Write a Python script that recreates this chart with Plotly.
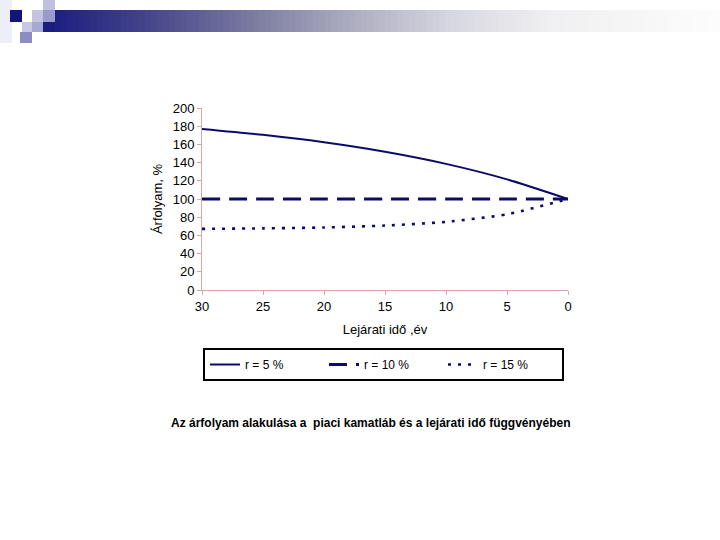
import plotly.graph_objects as go

# maturity (years left) and price (%) for three market rates
YEARS = [30, 25, 20, 15, 10, 5, 0]
R5 = [177, 170.5, 162.3, 151.9, 138.6, 121.6, 100]
R10 = [100, 100, 100, 100, 100, 100, 100]
R15 = [67.2, 67.7, 68.7, 70.8, 74.9, 83.2, 100]
NAMES = ["r = 5 %", "r = 10 %", "r = 15 %"]
Y_TICKS = list(range(0, 201, 20))
X_TICKS = [30, 25, 20, 15, 10, 5, 0]

NAVY = "#0b0b6b"
AXIS = "#dca4a4"
FONT = "Liberation Sans, Arial, sans-serif"

fig = go.Figure()
for ys, name, dash, w in [
    (R5, NAMES[0], "solid", 2),
    (R10, NAMES[1], "18px,9px", 3),
    (R15, NAMES[2], "3px,7px", 2.6),
]:
    fig.add_trace(go.Scatter(
        x=YEARS, y=ys, name=name, mode="lines",
        line=dict(color=NAVY, width=w, dash=dash, shape="spline", smoothing=0.6),
    ))


def px(xp, yp):
    # page pixel -> paper coords (plot area 202..568 x 108..290)
    return (xp - 202) / 366, (290 - yp) / 182


# slide decoration: gradient bar + squares at the top left
stops = [(43, (26, 26, 128)), (150, (70, 70, 140)), (250, (122, 122, 160)),
         (350, (172, 172, 192)), (450, (215, 215, 225)), (550, (240, 240, 242)),
         (720, (253, 253, 253))]
shapes = []
step = 6
for xa in range(43, 720, step):
    xm = xa + step / 2
    for (sa, ca), (sb, cb) in zip(stops, stops[1:]):
        if sa <= xm <= sb:
            t = (xm - sa) / (sb - sa)
            c = tuple(int(ca[k] + (cb[k] - ca[k]) * t) for k in range(3))
            break
    xa0, ya0 = px(xa, 32)
    xb0, yb0 = px(xa + step + 0.5, 10)
    shapes.append(dict(type="rect", xref="paper", yref="paper",
                       x0=xa0, x1=xb0, y0=ya0, y1=yb0,
                       line_width=0, fillcolor=f"rgb{c}", layer="below"))
squares = [
    (0, 0, 12, 43, "#eeeef8"),
    (10, 10, 22, 22, "#14147a"),
    (22, 22, 32, 32, "#c8c8e6"),
    (20, 32, 32, 43, "#8c8cc0"),
    (32, 10, 43, 22, "#c4c4e2"),
    (43, 0, 55, 10, "#c0c0e0"),
    (43, 10, 55, 22, "#9a9acc"),
    (32, 22, 43, 32, "#a8a8d4"),
]
for xa, ya, xb, yb, col in squares:
    x0, y0 = px(xa, yb)
    x1, y1 = px(xb, ya)
    shapes.append(dict(type="rect", xref="paper", yref="paper",
                       x0=x0, x1=x1, y0=y0, y1=y1,
                       line_width=0, fillcolor=col, layer="below"))

cx, cy = px(371, 423)
lx, ly = px(203, 348)
fig.update_layout(
    width=720, height=540,
    margin=dict(l=202, r=152, t=108, b=250),
    paper_bgcolor="white", plot_bgcolor="white",
    font=dict(family=FONT, size=13, color="black"),
    shapes=shapes,
    showlegend=True,
    legend=dict(
        orientation="h", x=lx, y=ly, xanchor="left", yanchor="top",
        bordercolor="black", borderwidth=2, bgcolor="white",
        font=dict(family=FONT, size=12), entrywidth=74,
    ),
    annotations=[dict(
        text="<b>Az árfolyam alakulása a  piaci kamatláb és a lejárati idő függvényében</b>",
        xref="paper", yref="paper", x=cx, y=cy, yanchor="middle",
        showarrow=False, font=dict(family=FONT, size=12, color="black"),
    )],
)
fig.update_xaxes(
    range=[30, 0], tickvals=X_TICKS, showgrid=False, zeroline=False,
    showline=True, linecolor=AXIS, linewidth=1,
    ticks="outside", tickcolor=AXIS, ticklen=4,
    title=dict(text="Lejárati idő ,év", font=dict(size=13), standoff=12),
)
fig.update_yaxes(
    range=[0, 200], tickvals=Y_TICKS, showgrid=False, zeroline=False,
    showline=True, linecolor=AXIS, linewidth=1,
    ticks="outside", tickcolor=AXIS, ticklen=4,
    title=dict(text="Árfolyam, %", font=dict(size=13), standoff=7),
)

fig.write_html("out.html", config={"displayModeBar": False},
               post_script="document.body.style.margin='0';")
